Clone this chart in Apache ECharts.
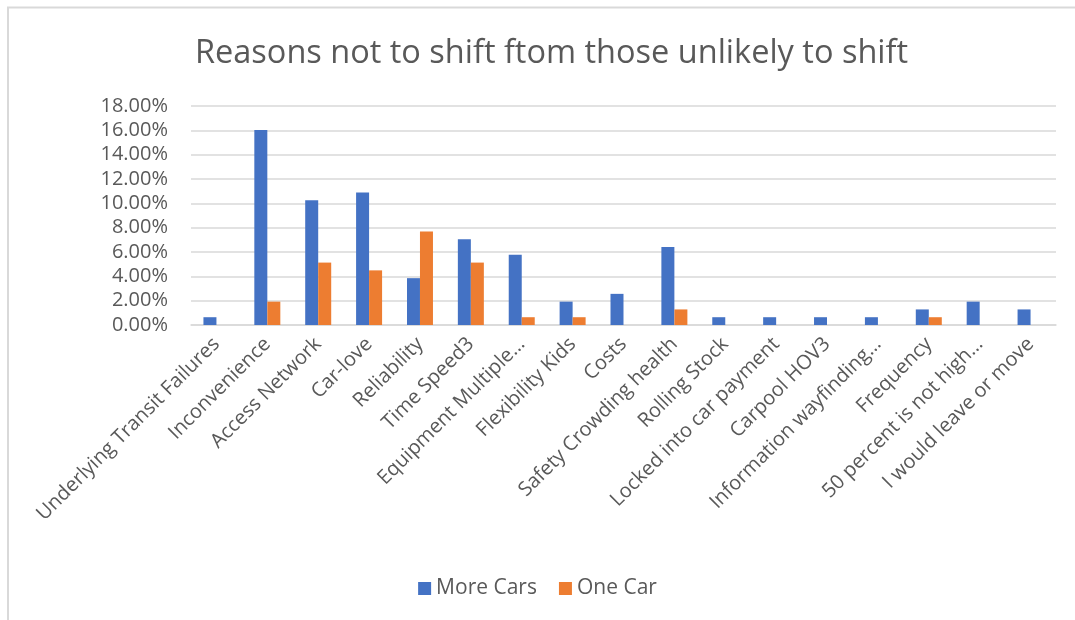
<!DOCTYPE html>
<html>
<head>
<meta charset="utf-8">
<title>Reasons not to shift</title>
<script src="https://cdn.jsdelivr.net/npm/echarts@6/dist/echarts.min.js"></script>
<style>
  html, body { margin: 0; padding: 0; background: #ffffff; }
  #chart { width: 1075px; height: 620px; }
</style>
</head>
<body>
<div id="chart"></div>
<script>
// Reasons given (share of respondents, in percent)
const categories = [
  'Underlying Transit Failures', 'Inconvenience', 'Access Network', 'Car-love',
  'Reliability', 'Time Speed3', 'Equipment Multiple…', 'Flexibility Kids', 'Costs',
  'Safety Crowding health', 'Rolling Stock', 'Locked into car payment', 'Carpool HOV3',
  'Information wayfinding…', 'Frequency', '50 percent is not high…', 'I would leave or move'
];
const moreCars = [0.64, 16.03, 10.26, 10.90, 3.85, 7.05, 5.77, 1.92, 2.56, 6.41, 0.64, 0.64, 0.64, 0.64, 1.28, 1.92, 1.28];
const oneCar   = [null, 1.92, 5.13, 4.49, 7.69, 5.13, 0.64, 0.64, null, 1.28, null, null, null, null, 0.64, null, null];
const seriesNames = ['More Cars', 'One Car'];
const chartTitle = 'Reasons not to shift ftom those unlikely to shift';

const FONT = '"Open Sans", "Noto Sans", sans-serif';
const TEXT = '#595959';
const GRID = '#d9d9d9';

const chart = echarts.init(document.getElementById('chart'), null, { renderer: 'canvas' });
chart.setOption({
  backgroundColor: '#ffffff',
  animation: false,
  title: {
    text: chartTitle,
    left: 190,
    top: 32,
    textStyle: { color: TEXT, fontFamily: FONT, fontSize: 32.5, fontWeight: 'normal' }
  },
  legend: {
    data: seriesNames,
    bottom: 16,
    left: 'center',
    itemWidth: 13,
    itemHeight: 13,
    itemGap: 22,
    icon: 'rect',
    textStyle: { color: TEXT, fontFamily: FONT, fontSize: 21 }
  },
  grid: { left: 191, right: 19, top: 106, bottom: 295 },
  xAxis: {
    type: 'category',
    data: categories,
    axisLine: { show: true, lineStyle: { color: GRID, width: 1.5 } },
    axisTick: { show: false },
    axisLabel: {
      interval: 0,
      rotate: 45,
      margin: 16,
      color: TEXT,
      fontFamily: FONT,
      fontSize: 20
    }
  },
  yAxis: {
    type: 'value',
    min: 0,
    max: 18,
    interval: 2,
    axisLine: { show: false },
    axisTick: { show: false },
    splitLine: { lineStyle: { color: GRID, width: 1.5 } },
    axisLabel: {
      margin: 23,
      color: TEXT,
      fontFamily: FONT,
      fontSize: 20,
      formatter: v => v.toFixed(2) + '%'
    }
  },
  series: [
    {
      name: seriesNames[0],
      type: 'bar',
      data: moreCars,
      barWidth: 13,
      barGap: '0%',
      itemStyle: { color: '#4472C4' }
    },
    {
      name: seriesNames[1],
      type: 'bar',
      data: oneCar,
      barWidth: 13,
      barGap: '0%',
      itemStyle: { color: '#ED7D31' }
    }
  ],
  graphic: [
    { type: 'line', shape: { x1: 7, y1: 7.5, x2: 1075, y2: 7.5 }, style: { stroke: GRID, lineWidth: 2 } },
    { type: 'line', shape: { x1: 8, y1: 7, x2: 8, y2: 620 }, style: { stroke: GRID, lineWidth: 2 } }
  ]
});
</script>
</body>
</html>
